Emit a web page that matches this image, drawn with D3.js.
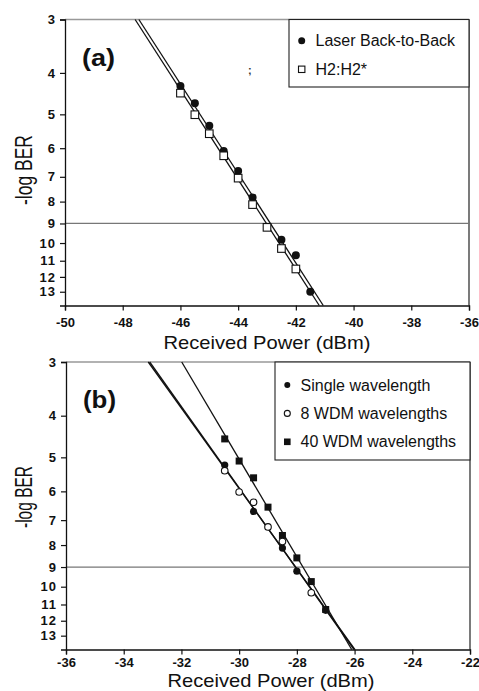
<!DOCTYPE html>
<html><head><meta charset="utf-8">
<script src="https://cdn.jsdelivr.net/npm/d3@7"></script>
<style>
html,body{margin:0;padding:0;background:#fff;}
svg{display:block;font-family:"Liberation Sans",Arial,sans-serif;}
</style></head>
<body>
<svg id="chart" width="479" height="691"></svg>
<script>
// ---------- DATA ----------
const yTicks = [3,4,5,6,7,8,9,10,11,12,13];
const xTicksA = [-50,-48,-46,-44,-42,-40,-38,-36];
const xTicksB = [-36,-34,-32,-30,-28,-26,-24,-22];

// Panel (a)
const laserX = [-46,-45.5,-45,-44.5,-44,-43.5,-42.5,-42,-41.5];
const laserY = [4.29,4.71,5.32,6.09,6.78,7.82,9.82,10.68,13.0];
const h2X = [-46,-45.5,-45,-44.5,-44,-43.5,-43,-42.5,-42];
const h2Y = [4.46,5.01,5.55,6.25,7.05,8.13,9.19,10.3,11.5];
const laserFitX = [-47.44,-41.05];
const h2FitX = [-47.57,-41.19];
const fitYA = [3,14];

// Panel (b)
const singleX = [-30.5,-29.5,-28.5,-28,-27];
const singleY = [5.21,6.68,8.13,9.2,11.35];
const wdm8X = [-30.5,-30,-29.5,-29,-28.5,-27.5];
const wdm8Y = [5.37,6.02,6.36,7.26,7.85,10.33];
const wdm40X = [-30.5,-30,-29.5,-29,-28.5,-28,-27.5,-27];
const wdm40Y = [4.53,5.1,5.58,6.53,7.6,8.57,9.73,11.3];
const singleFitX = [-33.15,-25.99];
const wdm8FitX = [-33.1,-26.02];
const wdm40FitX = [-31.99,-26.1];
const fitYB = [3,14];

const refLevel = 9;

// ---------- DRAW ----------
const svg = d3.select("#chart");
const font = '"Liberation Sans",Arial,sans-serif';

function panel(cfg){
  const x = d3.scaleLinear().domain(cfg.xDomain).range([cfg.left, cfg.right]);
  const y = d3.scaleLog().domain([3,14]).range([cfg.top, cfg.bottom]);
  const g = svg.append("g");

  // frame: top (gray) and right (black)
  g.append("line").attr("x1",cfg.left).attr("x2",cfg.right).attr("y1",cfg.top).attr("y2",cfg.top)
    .attr("stroke","#999").attr("stroke-width",1.3);
  g.append("line").attr("x1",cfg.right).attr("x2",cfg.right).attr("y1",cfg.top).attr("y2",cfg.bottom)
    .attr("stroke","#222").attr("stroke-width",1.2);

  // reference line at 9
  g.append("line").attr("x1",cfg.left).attr("x2",cfg.right)
    .attr("y1",y(refLevel)).attr("y2",y(refLevel))
    .attr("stroke","#777").attr("stroke-width",1.3);

  // axes
  const ax = g.append("g").attr("transform",`translate(0,${cfg.bottom})`)
    .call(d3.axisBottom(x).tickValues(cfg.xTicks).tickSize(5).tickFormat(d=>String(d).replace("−","-")));
  ax.select(".domain").attr("stroke","#111").attr("stroke-width",1.3);
  ax.selectAll(".tick line").attr("stroke","#111").attr("stroke-width",1.2);
  ax.selectAll(".tick text").attr("font-family",font).attr("font-size",13).attr("font-weight","bold")
    .attr("fill","#111").attr("dy",null).attr("y",cfg.xLabelY - cfg.bottom);

  const ay = g.append("g").attr("transform",`translate(${cfg.left},0)`)
    .call(d3.axisLeft(y).tickValues(yTicks).tickSize(5).tickFormat(d3.format("d")));
  ay.select(".domain").attr("stroke","#111").attr("stroke-width",1.3);
  ay.selectAll(".tick line").attr("stroke","#111").attr("stroke-width",1.2);
  ay.selectAll(".tick text").attr("font-family",font).attr("font-size",13).attr("font-weight","bold")
    .attr("fill","#111").attr("letter-spacing",1).attr("x",-9);

  // titles
  g.append("text").attr("x",cfg.titleX).attr("y",cfg.titleY).attr("text-anchor","middle")
    .attr("font-family",font).attr("font-size",cfg.titleFs).attr("fill","#111")
    .attr("textLength",207).attr("lengthAdjust","spacingAndGlyphs").text("Received Power (dBm)");
  g.append("text").attr("transform",`translate(${cfg.ylabX},${cfg.ylabY}) rotate(-90)`)
    .attr("text-anchor","middle").attr("font-family",font).attr("font-size",24).attr("fill","#111")
    .attr("textLength",cfg.ylabLen).attr("lengthAdjust","spacingAndGlyphs").text("-log BER");
  g.append("text").attr("x",cfg.left+17).attr("y",cfg.top+46).attr("font-family",font)
    .attr("font-size",24).attr("font-weight","bold").attr("fill","#111")
    .attr("textLength",33).attr("lengthAdjust","spacingAndGlyphs").text(cfg.tag);

  const line = d3.line().x(d=>x(d[0])).y(d=>y(d[1]));
  cfg.fits.forEach(f=>{
    g.append("path").datum(f.xs.map((v,i)=>[v,f.ys[i]])).attr("d",line)
      .attr("fill","none").attr("stroke","#111").attr("stroke-width",f.w||1.3);
  });

  cfg.series.forEach(s=>{
    const pts = s.xs.map((v,i)=>[v,s.ys[i]]);
    drawMarkers(g, pts.map(p=>[x(p[0]),y(p[1])]), s.shape, s.size);
  });

  // legend
  const L = cfg.legend;
  g.append("rect").attr("x",L.x).attr("y",cfg.top).attr("width",cfg.right-L.x).attr("height",L.h)
    .attr("fill","#fff").attr("stroke","#222").attr("stroke-width",1.1);
  L.items.forEach((it,i)=>{
    const cy = L.y0 + i*L.dy;
    drawMarkers(g,[[L.mx,cy]],it.shape,it.size);
    g.append("text").attr("x",L.tx).attr("y",cy+5.5).attr("font-family",font)
      .attr("font-size",L.fs).attr("fill","#111").text(it.label);
  });
  return {x,y,g};
}

function drawMarkers(g, pts, shape, size){
  pts.forEach(p=>{
    if(shape==="circle"){
      g.append("circle").attr("cx",p[0]).attr("cy",p[1]).attr("r",size).attr("fill","#111");
    } else if(shape==="ocircle"){
      g.append("circle").attr("cx",p[0]).attr("cy",p[1]).attr("r",size).attr("fill","#fff")
        .attr("stroke","#111").attr("stroke-width",1.1);
    } else if(shape==="osquare"){
      g.append("rect").attr("x",p[0]-size).attr("y",p[1]-size).attr("width",2*size).attr("height",2*size)
        .attr("fill","#fff").attr("stroke","#111").attr("stroke-width",1.1);
    } else if(shape==="square"){
      g.append("rect").attr("x",p[0]-size).attr("y",p[1]-size).attr("width",2*size).attr("height",2*size)
        .attr("fill","#111");
    }
  });
}

panel({
  xDomain:[-50,-36], xTicks:xTicksA, left:65, right:469, top:19.5, bottom:305.5,
  xLabelY:327, titleX:267, titleY:349, titleFs:19, ylabX:32, ylabY:170, ylabLen:70, tag:"(a)",
  fits:[{xs:laserFitX, ys:fitYA},{xs:h2FitX, ys:fitYA}],
  series:[
    {xs:laserX, ys:laserY, shape:"circle", size:4},
    {xs:h2X, ys:h2Y, shape:"osquare", size:3.8}
  ],
  legend:{x:289, h:67.5, y0:40.7, dy:28.6, mx:301.7, tx:315.5, fs:16,
    items:[{label:"Laser Back-to-Back",shape:"circle",size:3.5},{label:"H2:H2*",shape:"osquare",size:3.2}]}
});

panel({
  xDomain:[-36,-22], xTicks:xTicksB, left:66, right:470, top:362, bottom:649.5,
  xLabelY:667, titleX:271, titleY:687, titleFs:18.5, ylabX:32, ylabY:497, ylabLen:62, tag:"(b)",
  fits:[{xs:singleFitX, ys:fitYB},{xs:wdm8FitX, ys:fitYB},{xs:wdm40FitX, ys:fitYB}],
  series:[
    {xs:wdm40X, ys:wdm40Y, shape:"square", size:3.5},
    {xs:singleX, ys:singleY, shape:"circle", size:3.6},
    {xs:wdm8X, ys:wdm8Y, shape:"ocircle", size:3.3}
  ],
  legend:{x:275, h:98, y0:385, dy:28.4, mx:287.3, tx:300.5, fs:16,
    items:[{label:"Single wavelength",shape:"circle",size:3},
           {label:"8 WDM wavelengths",shape:"ocircle",size:3},
           {label:"40 WDM wavelengths",shape:"square",size:3.3}]}
});

// small stray mark in panel (a)
svg.append("text").attr("x",248).attr("y",74).attr("font-family",font).attr("font-size",11)
  .attr("font-weight","bold").attr("fill","#333").text(";");
</script>
</body></html>
